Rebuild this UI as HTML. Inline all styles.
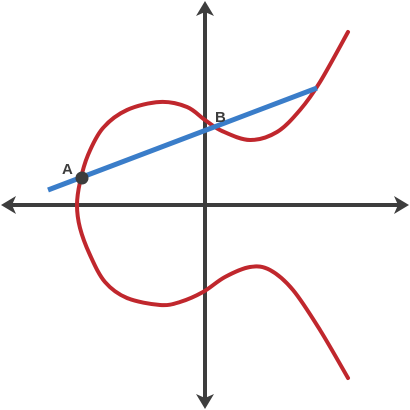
<!DOCTYPE html>
<html><head><meta charset="utf-8"><style>
html,body{margin:0;padding:0;background:#fff;}
svg{display:block;}
text{font-family:"Liberation Sans",sans-serif;font-weight:bold;font-size:15px;fill:#3d3d3d;}
</style></head><body>
<svg id="chart" width="410" height="410" viewBox="0 0 410 410">
  <g fill="#3d3d3d">
    <line x1="8" y1="205" x2="402" y2="205" stroke="#3d3d3d" stroke-width="4"/>
    <path d="M1,205 L16,196 L12,205 L16,214 Z"/>
    <path d="M409,205 L394,196 L398,205 L394,214 Z"/>
  </g>
  <g fill="#3d3d3d">
    <line x1="205" y1="8" x2="205" y2="402" stroke="#3d3d3d" stroke-width="4"/>
    <path d="M205,1 L196,16 L205,12 L214,16 Z"/>
    <path d="M205,409 L196,394 L205,398 L214,394 Z"/>
  </g>
  <path id="curve" fill="none" stroke="#c0272d" stroke-width="4" stroke-linecap="round"/>
  <line id="secant" stroke="#3a7dc9" stroke-width="5" stroke-linecap="butt"/>
  <circle id="ptA" r="6.5" fill="#3d3d3d"/>
  <text id="labA">A</text>
  <text id="labB">B</text>
</svg>
<script>
const curveX = [2.86, 2.3, 1.76, 1.3, 0.9, 0.4, -0.04, -0.5, -0.9, -1.56, -2.0, -2.3, -2.5, -2.56, -2.5, -2.34, -2.04, -1.56, -0.9, -0.36, 0.0, 0.34, 0.9, 1.44, 1.9, 2.3, 2.86];
const curveY = [-3.46, -2.5, -1.7, -1.3, -1.24, -1.44, -1.74, -1.94, -2.0, -1.86, -1.54, -1.0, -0.46, 0.0, 0.46, 1.0, 1.54, 1.9, 2.06, 1.96, 1.7, 1.48, 1.3, 1.46, 1.9, 2.46, 3.46];
const lineX = [-3.14, 2.24];
const lineY = [0.3, 2.34];
const pointA = [-2.46, 0.54];
const pointB = [0.28, 1.86];
const sx = v => 205 + v * 50;
const sy = v => 205 - v * 50;
const P = curveX.map((x, i) => [sx(x), sy(curveY[i])]);
let d = 'M' + P[0][0] + ',' + P[0][1];
for (let i = 0; i < P.length - 1; i++) {
  const p0 = P[Math.max(0, i - 1)], p1 = P[i], p2 = P[i + 1], p3 = P[Math.min(P.length - 1, i + 2)];
  const c1 = [p1[0] + (p2[0] - p0[0]) / 6, p1[1] + (p2[1] - p0[1]) / 6];
  const c2 = [p2[0] - (p3[0] - p1[0]) / 6, p2[1] - (p3[1] - p1[1]) / 6];
  d += ' C' + c1.join(',') + ' ' + c2.join(',') + ' ' + p2.join(',');
}
document.getElementById('curve').setAttribute('d', d);
const s = document.getElementById('secant');
s.setAttribute('x1', sx(lineX[0])); s.setAttribute('y1', sy(lineY[0]));
s.setAttribute('x2', sx(lineX[1])); s.setAttribute('y2', sy(lineY[1]));
const a = document.getElementById('ptA');
a.setAttribute('cx', sx(pointA[0])); a.setAttribute('cy', sy(pointA[1]));
const la = document.getElementById('labA');
la.setAttribute('x', sx(pointA[0]) - 20); la.setAttribute('y', sy(pointA[1]) - 4);
const lb = document.getElementById('labB');
lb.setAttribute('x', sx(pointB[0]) - 4); lb.setAttribute('y', sy(pointB[1]) + 10);
</script>
</body></html>
